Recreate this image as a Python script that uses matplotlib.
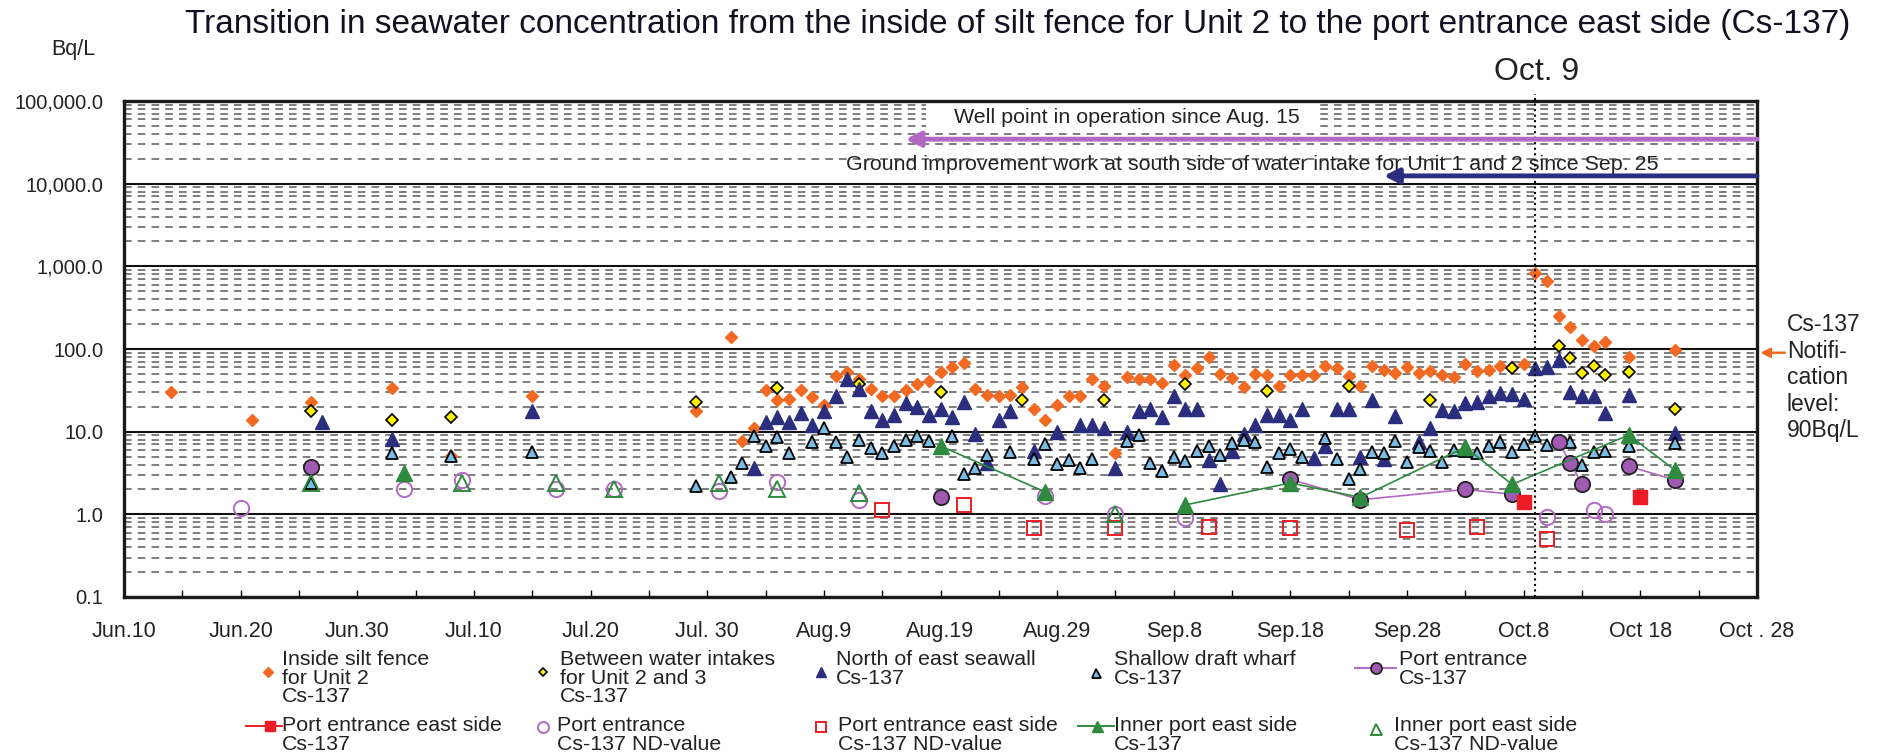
import numpy as np
import pandas as pd
import matplotlib
matplotlib.use("Agg")
import matplotlib.pyplot as plt
import matplotlib.dates as mdates
from matplotlib.lines import Line2D
from matplotlib.patches import Rectangle
from matplotlib.ticker import LogLocator, NullFormatter

plt.rcParams['font.family'] = ['Liberation Sans', 'DejaVu Sans']

W, H = 1881, 755


def d(lst):
    return pd.to_datetime(['2013-' + s for s in lst])


nan = np.nan

# ---------------- data (Bq/L) ----------------
# Inside silt fence for Unit 2
silt_dates = ['06-14', '06-21', '06-26', '07-03', '07-08', '07-15', '07-29',
              '08-01', '08-02', '08-03', '08-04', '08-05', '08-06', '08-07', '08-08', '08-09', '08-10',
              '08-11', '08-12', '08-13', '08-14', '08-15', '08-16', '08-17', '08-18', '08-19', '08-20',
              '08-21', '08-22', '08-23', '08-24', '08-25', '08-26', '08-27', '08-28', '08-29', '08-30',
              '08-31', '09-01', '09-02', '09-03', '09-04', '09-05', '09-06', '09-07', '09-08', '09-09',
              '09-10', '09-11', '09-12', '09-13', '09-14', '09-15', '09-16', '09-17', '09-18', '09-19',
              '09-20', '09-21', '09-22', '09-23', '09-24', '09-25', '09-26', '09-27', '09-28', '09-29',
              '09-30', '10-01', '10-02', '10-03', '10-04', '10-05', '10-06', '10-07', '10-08', '10-09',
              '10-10', '10-11', '10-12', '10-13', '10-14', '10-15', '10-17', '10-21']
silt_vals = [30, 14, 23, 34, 5.1, 27, 18,
             140, 7.7, 11, 32, 24, 25, 32, 26, 21, 47,
             53, 43, 33, 27, 27, 32, 38, 41, 52, 61,
             67, 33, 28, 27, 27.5, 35, 19, 14, 21, 27,
             27, 43, 36, 5.5, 46, 43, 43, 39, 64, 49,
             59, 80, 50, 45, 35, 50, 48, 36, 48, 49,
             49, 62, 59, 47, 36, 62, 55, 51, 60, 51,
             54, 49, 46, 65, 54, 55, 62, 61, 65, 830,
             670, 250, 185, 130, 110, 120, 80, 98]

# Between water intakes for Unit 2 and 3
intake_dates = ['06-26', '07-03', '07-08', '07-29', '08-05', '08-12', '08-19', '08-26', '09-02',
                '09-09', '09-16', '09-23', '09-30', '10-07', '10-11', '10-12', '10-13', '10-14',
                '10-15', '10-17', '10-21']
intake_vals = [18, 14, 15, 23, 34, 38, 30, 24, 24,
               38, 31, 36, 24, 59, 110, 78, 51, 63,
               48, 53, 19]

# North of east seawall
north_dates = ['06-27', '07-03', '07-15', '08-03', '08-04', '08-05', '08-06', '08-07', '08-08',
               '08-09', '08-10', '08-11', '08-12', '08-13', '08-14', '08-15', '08-16', '08-17',
               '08-18', '08-19', '08-20', '08-21', '08-22', '08-23', '08-24', '08-25', '08-27',
               '08-29', '08-31', '09-01', '09-02', '09-03', '09-04', '09-05', '09-06', '09-07',
               '09-08', '09-09', '09-10', '09-11', '09-12', '09-13', '09-14', '09-15', '09-16',
               '09-17', '09-18', '09-19', '09-20', '09-21', '09-22', '09-23', '09-24', '09-25',
               '09-26', '09-27', '09-29', '09-30', '10-01', '10-02', '10-03', '10-04', '10-05',
               '10-06', '10-07', '10-08', '10-09', '10-10', '10-11', '10-12', '10-13', '10-14',
               '10-15', '10-17', '10-21']
north_vals = [13, 8.2, 18, 3.6, 13, 15, 13, 17, 12,
              18, 27, 43, 33, 18, 14, 16, 22, 20,
              16, 19, 15, 23, 9.5, 4.2, 14, 18, 5.9,
              10, 12, 12, 11, 3.6, 10, 18, 19, 15,
              27, 19, 19, 4.5, 2.3, 5.8, 9.4, 12, 16,
              16, 14, 19, 4.8, 6.7, 19, 19, 4.9, 24,
              4.7, 15.5, 7.4, 11, 18.5, 18, 22.5, 23, 27,
              29, 28.5, 25, 59, 61, 73, 30, 27, 27,
              17, 28, 9.7]

# Shallow draft wharf
wharf_dates = ['06-26', '07-03', '07-08', '07-15', '07-29', '08-01', '08-02', '08-03', '08-04',
               '08-05', '08-06', '08-08', '08-09', '08-10', '08-11', '08-12', '08-13', '08-14',
               '08-15', '08-16', '08-17', '08-18', '08-20', '08-21', '08-22', '08-23', '08-25',
               '08-27', '08-28', '08-29', '08-30', '08-31', '09-01', '09-04', '09-05', '09-06',
               '09-07', '09-08', '09-09', '09-10', '09-11', '09-12', '09-13', '09-14', '09-15',
               '09-16', '09-17', '09-18', '09-19', '09-21', '09-22', '09-23', '09-24', '09-25',
               '09-26', '09-27', '09-28', '09-29', '09-30', '10-01', '10-02', '10-03', '10-04',
               '10-05', '10-06', '10-07', '10-08', '10-09', '10-10', '10-12', '10-13', '10-14',
               '10-15', '10-17', '10-21']
wharf_vals = [2.4, 5.5, 5.1, 5.6, 2.2, 2.8, 4.2, 8.8, 6.7,
              8.7, 5.5, 7.5, 11, 7.5, 5.0, 7.9, 6.4, 5.5,
              6.7, 7.9, 8.8, 7.7, 8.8, 3.1, 3.6, 5.2, 5.7,
              4.7, 7.0, 4.1, 4.6, 3.6, 4.7, 7.7, 9.2, 4.2,
              3.3, 4.9, 4.4, 5.8, 6.8, 5.2, 7.3, 8.0, 7.5,
              3.7, 5.5, 6.1, 5.0, 8.4, 4.7, 2.7, 3.5, 5.7,
              5.5, 7.7, 4.3, 6.5, 5.9, 4.3, 6.0, 5.9, 5.5,
              6.7, 7.6, 5.7, 7.0, 8.8, 6.9, 7.4, 4.0, 5.6,
              5.9, 6.7, 7.2]

# Port entrance (nan = below detection limit)
port_dates = ['06-20', '06-26', '07-04', '07-09', '07-17', '07-22', '07-31', '08-05', '08-12',
              '08-19', '08-28', '09-03', '09-09', '09-18', '09-24', '10-03', '10-07', '10-10',
              '10-11', '10-12', '10-13', '10-14', '10-15', '10-17', '10-21']
port_vals = [nan, 3.7, nan, nan, nan, nan, nan, nan, nan,
             1.6, nan, nan, nan, 2.65, 1.5, 2.0, 1.75, nan,
             7.4, 4.2, 2.3, nan, nan, 3.8, 2.6]
port_nd_dates = ['06-20', '07-04', '07-09', '07-17', '07-22', '07-31', '08-05', '08-12', '08-28',
                 '09-03', '09-09', '10-10', '10-14', '10-15']
port_nd_vals = [1.2, 2.0, 2.6, 2.0, 2.0, 1.9, 2.45, 1.5, 1.65,
                1.0, 0.91, 0.92, 1.13, 1.0]

# Port entrance east side
east_dates = ['08-14', '08-21', '08-27', '09-03', '09-11', '09-18', '09-28', '10-04', '10-08',
              '10-10', '10-18']
east_vals = [nan, nan, nan, nan, nan, nan, nan, nan, 1.4, nan, 1.63]
east_nd_dates = ['08-14', '08-21', '08-27', '09-03', '09-11', '09-18', '09-28', '10-04', '10-10']
east_nd_vals = [1.12, 1.3, 0.69, 0.69, 0.70, 0.69, 0.65, 0.70, 0.51]

# Inner port east side
inner_dates = ['06-26', '07-04', '07-09', '07-17', '07-22', '07-31', '08-05', '08-12', '08-19',
               '08-28', '09-03', '09-09', '09-18', '09-24', '10-03', '10-07', '10-17', '10-21']
inner_vals = [nan, 3.2, nan, nan, nan, nan, nan, nan, 6.7,
              1.86, nan, 1.3, 2.4, 1.6, 6.5, 2.3, 9.1, 3.4]
inner_nd_dates = ['06-26', '07-09', '07-17', '07-22', '07-31', '08-05', '08-12', '09-03']
inner_nd_vals = [2.4, 2.4, 2.4, 2.0, 2.4, 2.0, 1.8, 1.0]

xlabels = ['Jun.10', 'Jun.20', 'Jun.30', 'Jul.10', 'Jul.20', 'Jul. 30', 'Aug.9', 'Aug.19',
           'Aug.29', 'Sep.8', 'Sep.18', 'Sep.28', 'Oct.8', 'Oct 18', 'Oct . 28']
ylabels = ['0.1', '1.0', '10.0', '100.0', '1,000.0', '10,000.0', '100,000.0']
yticks = [0.1, 1, 10, 100, 1000, 10000, 100000]

names = ['Inside silt fence\nfor Unit 2\nCs-137',
         'Between water intakes\nfor Unit 2 and 3\nCs-137',
         'North of east seawall\nCs-137',
         'Shallow draft wharf\nCs-137',
         'Port entrance\nCs-137',
         'Port entrance east side\nCs-137',
         'Port entrance\nCs-137 ND-value',
         'Port entrance east side\nCs-137 ND-value',
         'Inner port east side\nCs-137',
         'Inner port east side\nCs-137 ND-value']

# colours
ORANGE = '#F26A21'
YELLOW = '#FFF200'
NAVY = '#2B2E7E'
SKY = '#7BBCE4'
PURPLE = '#A15AB4'
PURPLE_L = '#B468C6'
RED = '#ED1C24'
GREEN = '#2E8B3E'
TXT = '#222222'

styles = [
    dict(ls='none', marker='D', ms=6.5, color=ORANGE, mec=ORANGE),
    dict(ls='none', marker='D', ms=5.8, mfc=YELLOW, mec='black', mew=1.2),
    dict(ls='none', marker='^', ms=9.5, color=NAVY, mec=NAVY),
    dict(ls='none', marker='^', ms=9, mfc=SKY, mec='black', mew=1.3),
    dict(ls='-', lw=1.2, color=PURPLE_L, marker='o', ms=11, mfc=PURPLE, mec='#222222', mew=1.3),
    dict(ls='-', lw=1.2, color=RED, marker='s', ms=9.5, mfc=RED, mec=RED),
    dict(ls='none', marker='o', ms=11, mfc='none', mec=PURPLE_L, mew=1.4),
    dict(ls='none', marker='s', ms=10.5, mfc='none', mec=RED, mew=1.4),
    dict(ls='-', lw=1.2, color=GREEN, marker='^', ms=11, mfc=GREEN, mec=GREEN),
    dict(ls='none', marker='^', ms=11, mfc='none', mec=GREEN, mew=1.4),
]

series = [(silt_dates, silt_vals), (intake_dates, intake_vals), (north_dates, north_vals),
          (wharf_dates, wharf_vals), (port_dates, port_vals), (east_dates, east_vals),
          (port_nd_dates, port_nd_vals), (east_nd_dates, east_nd_vals),
          (inner_dates, inner_vals), (inner_nd_dates, inner_nd_vals)]

# ---------------- figure ----------------
fig = plt.figure(figsize=(W / 100, H / 100), dpi=100)
ax = fig.add_axes([124 / W, 1 - 597 / H, (1757 - 124) / W, (597 - 101) / H])

ax.set_yscale('log')
ax.set_ylim(0.1, 100000)
x0, x1 = pd.Timestamp('2013-06-10'), pd.Timestamp('2013-10-28')
ax.set_xlim(x0, x1)

# gridlines
ax.yaxis.set_minor_locator(LogLocator(base=10, subs=np.arange(2, 10)))
ax.yaxis.set_minor_formatter(NullFormatter())
ax.set_yticks(yticks)
ax.set_yticklabels(ylabels)
ax.grid(True, which='major', axis='y', color='#111111', lw=1.5)
ax.grid(True, which='minor', axis='y', color='#5a5a5a', lw=1.1, ls=(0, (5, 4)))
ax.set_axisbelow(True)
ax.tick_params(axis='y', which='both', length=0, pad=15, labelsize=14.5, labelcolor=TXT)

ticks5 = pd.date_range(x0, x1, freq='5D')
ax.set_xticks(ticks5)
ax.set_xticklabels([xlabels[i // 2] if i % 2 == 0 else '' for i in range(len(ticks5))])
ax.tick_params(axis='x', direction='in', length=5, width=1, pad=17, labelsize=15.5,
               labelcolor=TXT)

for sp in ax.spines.values():
    sp.set_linewidth(2.4)
    sp.set_color('#1a1a1a')

for (dd, vv), st in zip(series, styles):
    ax.plot(d(dd), vv, zorder=3, **st)

# Oct. 9 marker
oct9 = mdates.date2num(pd.Timestamp('2013-10-09'))
ax.plot([oct9, oct9], [0, 1.015], transform=ax.get_xaxis_transform(), color='black',
        ls=':', lw=1.5, clip_on=False, zorder=4)
fig.text(1537 / W, 1 - 72 / H, 'Oct. 9', ha='center', va='center', fontsize=23, color=TXT)

# work period annotations
ax.add_patch(Rectangle((0.491, 0.94), 0.241, 0.06, transform=ax.transAxes,
                       fc='white', ec='none', zorder=2))
ax.text(0.508, 0.966, 'Well point in operation since Aug. 15', transform=ax.transAxes,
        fontsize=15.4, va='center', color=TXT, zorder=5)
ax.annotate('', xy=(mdates.date2num(pd.Timestamp('2013-08-16')), 0.923),
            xycoords=('data', 'axes fraction'), xytext=(1.0, 0.923), textcoords='axes fraction',
            arrowprops=dict(arrowstyle='-|>', color=PURPLE_L, lw=3.5, mutation_scale=22,
                            shrinkA=0, shrinkB=0), zorder=5)
ax.text(0.442, 0.871, 'Ground improvement work at south side of water intake for Unit 1 and 2 since Sep. 25',
        transform=ax.transAxes, fontsize=15.4, va='center', color=TXT, zorder=5)
ax.annotate('', xy=(mdates.date2num(pd.Timestamp('2013-09-26')), 0.849),
            xycoords=('data', 'axes fraction'), xytext=(1.0, 0.849), textcoords='axes fraction',
            arrowprops=dict(arrowstyle='-|>', color=NAVY, lw=3.5, mutation_scale=22,
                            shrinkA=0, shrinkB=0), zorder=5)

# notification level
ax.annotate('', xy=(1.002, 90), xycoords=('axes fraction', 'data'),
            xytext=(1.017, 90), textcoords=('axes fraction', 'data'),
            arrowprops=dict(arrowstyle='-|>', color=ORANGE, lw=1.8, mutation_scale=14,
                            shrinkA=0, shrinkB=0), annotation_clip=False)
fig.text(1787 / W, 1 - 313 / H, 'Cs-137\nNotifi-\ncation\nlevel:\n90Bq/L', ha='left', va='top',
         fontsize=16.5, linespacing=1.2, color=TXT)

# titles
fig.text(1018 / W, 1 - 25 / H,
         'Transition in seawater concentration from the inside of silt fence for Unit 2 to the port entrance east side (Cs-137)',
         ha='center', va='center', fontsize=24, color='#111122')
fig.text(73 / W, 1 - 50 / H, 'Bq/L', ha='center', va='center', fontsize=15.5, color=TXT)

# legend (placed by hand, as in the original)
leg = [  # marker x, marker y, line span, text x, text top
    (268, 672, None, 282, 650),
    (543, 672, None, 560, 650),
    (821, 672, None, 836, 650),
    (1096, 673, None, 1114, 650),
    (1376, 668, (1355, 1396), 1399, 650),
    (270, 726, (246, 282), 282, 716),
    (543, 727, None, 557, 716),
    (821, 727, None, 838, 716),
    (1097, 726, (1078, 1114), 1114, 716),
    (1376, 729, None, 1394, 716),
]
for (mx, my, span, tx, ty), st, name in zip(leg, styles, names):
    st = dict(st)
    st['ms'] = st['ms'] * 0.72
    if span is not None:
        fig.add_artist(Line2D([span[0] / W, span[1] / W], [1 - my / H, 1 - my / H],
                              transform=fig.transFigure, color=st['color'], lw=1.4))
    st['ls'] = 'none'
    fig.add_artist(Line2D([mx / W], [1 - my / H], transform=fig.transFigure, **st))
    fig.text(tx / W, 1 - ty / H, name, ha='left', va='top', fontsize=15.4,
             linespacing=0.98, color=TXT)

fig.savefig('out.png', dpi=100)
